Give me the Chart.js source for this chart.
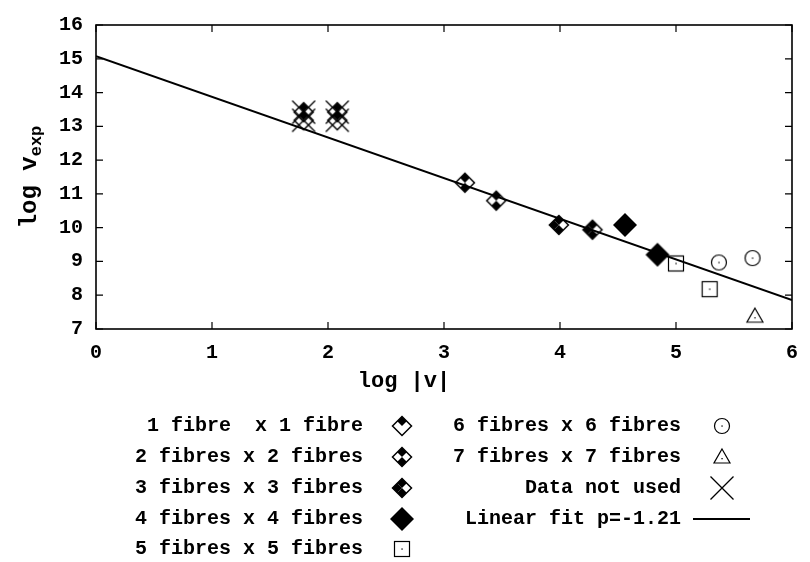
<!DOCTYPE html>
<html>
<head>
<meta charset="utf-8">
<script src="https://cdn.jsdelivr.net/npm/chart.js@4.4.0/dist/chart.umd.min.js"></script>
<style>
  html, body { margin: 0; padding: 0; background: #fff; }
</style>
</head>
<body>
<canvas id="myChart" width="810" height="562"></canvas>
<script>
// values
var fibre1X = [1.79, 2.08, 1.79, 2.08]
var fibre1Y = [13.42, 13.42, 13.18, 13.18]
var notUsedX = [1.79, 2.08, 1.79, 2.08]
var notUsedY = [13.42, 13.42, 13.18, 13.18]
var fibre2X = [3.18, 3.45]
var fibre2Y = [11.33, 10.8]
var fibre3X = [3.99, 4.28]
var fibre3Y = [10.08, 9.94]
var fibre4X = [4.56, 4.84]
var fibre4Y = [10.08, 9.2]
var fibre5X = [5.0, 5.29]
var fibre5Y = [8.94, 8.18]
var fibre6X = [5.37, 5.66]
var fibre6Y = [8.97, 9.1]
var fibre7X = [5.68]
var fibre7Y = [7.38]
var fitX = [0, 6]
var fitY = [15.08, 7.86]

var xTicks = [0, 1, 2, 3, 4, 5, 6]
var yTicks = [7, 8, 9, 10, 11, 12, 13, 14, 15, 16]

var FONT = '"Liberation Mono", "Courier New", monospace'

function pts(xs, ys) {
  var out = []
  for (var i = 0; i < xs.length; i++) out.push({ x: xs[i], y: ys[i] })
  return out
}

// marker pictures used as pointStyle
function makeMarker(kind) {
  var c = document.createElement('canvas')
  c.width = 30
  c.height = 30
  var g = c.getContext('2d')
  var cx = 15, cy = 15
  g.strokeStyle = '#000'
  g.fillStyle = '#000'
  g.lineWidth = 1.5
  var h = 9.5

  function quad(q) {
    var T = [cx, cy - h], R = [cx + h, cy], B = [cx, cy + h], L = [cx - h, cy]
    var m = function(a, b) { return [(a[0] + b[0]) / 2, (a[1] + b[1]) / 2] }
    var p
    if (q === 't') p = [T, m(T, R), [cx, cy], m(T, L)]
    if (q === 'b') p = [B, m(B, R), [cx, cy], m(B, L)]
    if (q === 'l') p = [L, m(L, T), [cx, cy], m(L, B)]
    if (q === 'r') p = [R, m(R, T), [cx, cy], m(R, B)]
    g.beginPath()
    g.moveTo(p[0][0], p[0][1])
    for (var i = 1; i < 4; i++) g.lineTo(p[i][0], p[i][1])
    g.closePath()
    g.fill()
  }
  function diamond() {
    g.beginPath()
    g.moveTo(cx, cy - h); g.lineTo(cx + h, cy); g.lineTo(cx, cy + h); g.lineTo(cx - h, cy)
    g.closePath()
    g.stroke()
  }

  if (kind === 'd1') { quad('t'); diamond() }
  if (kind === 'd2') { quad('t'); quad('b'); diamond() }
  if (kind === 'd3') { quad('t'); quad('b'); quad('l'); diamond() }
  if (kind === 'd4') {
    g.beginPath()
    g.moveTo(cx, cy - 12); g.lineTo(cx + 12, cy); g.lineTo(cx, cy + 12); g.lineTo(cx - 12, cy)
    g.closePath()
    g.fill()
  }
  if (kind === 'sq') {
    g.lineWidth = 1.2
    g.strokeRect(cx - 7.5, cy - 7.5, 15, 15)
    g.fillRect(cx - 0.6, cy - 0.6, 1.3, 1.3)
  }
  if (kind === 'ci') {
    g.lineWidth = 1.2
    g.beginPath(); g.arc(cx, cy, 7.5, 0, Math.PI * 2); g.stroke()
    g.fillRect(cx - 0.6, cy - 0.6, 1.3, 1.3)
  }
  if (kind === 'tr') {
    g.lineWidth = 1.2
    g.beginPath()
    g.moveTo(cx, cy - 8); g.lineTo(cx + 8, cy + 6); g.lineTo(cx - 8, cy + 6)
    g.closePath(); g.stroke()
    g.fillRect(cx - 0.6, cy + 1, 1.3, 1.3)
  }
  if (kind === 'xx') {
    g.lineWidth = 1.3
    g.beginPath()
    g.moveTo(cx - 11.5, cy - 11.5); g.lineTo(cx + 11.5, cy + 11.5)
    g.moveTo(cx + 11.5, cy - 11.5); g.lineTo(cx - 11.5, cy + 11.5)
    g.stroke()
  }
  return c
}

var mk = {
  d1: makeMarker('d1'), d2: makeMarker('d2'), d3: makeMarker('d3'), d4: makeMarker('d4'),
  sq: makeMarker('sq'), ci: makeMarker('ci'), tr: makeMarker('tr'), xx: makeMarker('xx')
}

function scatterSet(label, data, style, order) {
  return {
    type: 'scatter',
    label: label,
    data: data,
    pointStyle: style,
    pointRadius: 10,
    order: order
  }
}

var datasets = [
  scatterSet('1 fibre  x 1 fibre', pts(fibre1X, fibre1Y), mk.d1, 5),
  scatterSet('2 fibres x 2 fibres', pts(fibre2X, fibre2Y), mk.d2, 5),
  scatterSet('3 fibres x 3 fibres', pts(fibre3X, fibre3Y), mk.d3, 5),
  scatterSet('4 fibres x 4 fibres', pts(fibre4X, fibre4Y), mk.d4, 5),
  scatterSet('5 fibres x 5 fibres', pts(fibre5X, fibre5Y), mk.sq, 5),
  scatterSet('6 fibres x 6 fibres', pts(fibre6X, fibre6Y), mk.ci, 5),
  scatterSet('7 fibres x 7 fibres', pts(fibre7X, fibre7Y), mk.tr, 5),
  scatterSet('Data not used', pts(notUsedX, notUsedY), mk.xx, 1),
  {
    type: 'line',
    label: 'Linear fit p=-1.21',
    data: pts(fitX, fitY),
    borderColor: '#000',
    borderWidth: 2,
    pointRadius: 0,
    fill: false,
    order: 0
  }
]

// frame, inward ticks, titles (y one has a subscript), legend in two columns
var decor = {
  id: 'decor',
  afterDatasetsDraw: function(chart) {
    var ctx = chart.ctx
    var a = chart.chartArea
    var xs = chart.scales.x, ys = chart.scales.y
    ctx.save()
    ctx.strokeStyle = '#000'
    ctx.lineWidth = 1.6
    ctx.strokeRect(a.left, a.top, a.right - a.left, a.bottom - a.top)
    ctx.lineWidth = 1.2
    ctx.beginPath()
    xTicks.forEach(function(v) {
      var px = xs.getPixelForValue(v)
      ctx.moveTo(px, a.bottom); ctx.lineTo(px, a.bottom - 7)
      ctx.moveTo(px, a.top); ctx.lineTo(px, a.top + 7)
    })
    yTicks.forEach(function(v) {
      var py = ys.getPixelForValue(v)
      ctx.moveTo(a.left, py); ctx.lineTo(a.left + 7, py)
      ctx.moveTo(a.right, py); ctx.lineTo(a.right - 7, py)
    })
    ctx.stroke()

    // x title
    ctx.fillStyle = '#000'
    ctx.font = 'bold 22px ' + FONT
    ctx.textAlign = 'center'
    ctx.textBaseline = 'middle'
    ctx.fillText('log |v|', 404, 381)

    // y title
    ctx.save()
    ctx.translate(36, 177)
    ctx.rotate(-Math.PI / 2)
    ctx.textAlign = 'left'
    ctx.textBaseline = 'alphabetic'
    var main = 'log v'
    ctx.font = 'bold 24px ' + FONT
    var w1 = ctx.measureText(main).width
    ctx.font = 'bold 17px ' + FONT
    var w2 = ctx.measureText('exp').width
    var start = -(w1 + w2) / 2
    ctx.font = 'bold 24px ' + FONT
    ctx.fillText(main, start, 0)
    ctx.font = 'bold 17px ' + FONT
    ctx.fillText('exp', start + w1, 5)
    ctx.restore()

    // legend
    var rows = [426, 457, 488, 519, 549]
    var cols = [{ text: 363, mark: 402 }, { text: 681, mark: 722 }]
    ctx.font = 'bold 20px ' + FONT
    ctx.textAlign = 'right'
    ctx.textBaseline = 'middle'
    chart.data.datasets.forEach(function(ds, i) {
      var col = cols[i < 5 ? 0 : 1]
      var y = rows[i < 5 ? i : i - 5]
      ctx.fillText(ds.label, col.text, y)
      if (ds.type === 'line') {
        ctx.beginPath()
        ctx.lineWidth = 2
        ctx.moveTo(693, y); ctx.lineTo(750, y)
        ctx.stroke()
      } else {
        var im = ds.pointStyle
        ctx.drawImage(im, col.mark - im.width / 2, y - im.height / 2)
      }
    })
    ctx.restore()
  }
}

var ctx = document.getElementById('myChart').getContext('2d')
var chart = new Chart(ctx, {
  data: { datasets: datasets },
  options: {
    responsive: false,
    animation: false,
    layout: { padding: { left: 40, right: 14, top: 19, bottom: 0 } },
    plugins: { legend: { display: false }, tooltip: { enabled: false } },
    scales: {
      x: {
        type: 'linear',
        min: 0,
        max: 6,
        afterFit: function(s) { s.height = 233 },
        afterBuildTicks: function(s) { s.ticks = xTicks.map(function(v) { return { value: v } }) },
        grid: { display: false, drawTicks: false },
        border: { display: false },
        ticks: { color: '#000', padding: 12, font: { family: FONT, size: 20, weight: 'bold' } }
      },
      y: {
        type: 'linear',
        min: 7,
        max: 16,
        afterFit: function(s) { s.width = 56 },
        afterBuildTicks: function(s) { s.ticks = yTicks.map(function(v) { return { value: v } }) },
        grid: { display: false, drawTicks: false },
        border: { display: false },
        ticks: { color: '#000', padding: 13, font: { family: FONT, size: 20, weight: 'bold' } }
      }
    }
  },
  plugins: [decor]
})
</script>
</body>
</html>
